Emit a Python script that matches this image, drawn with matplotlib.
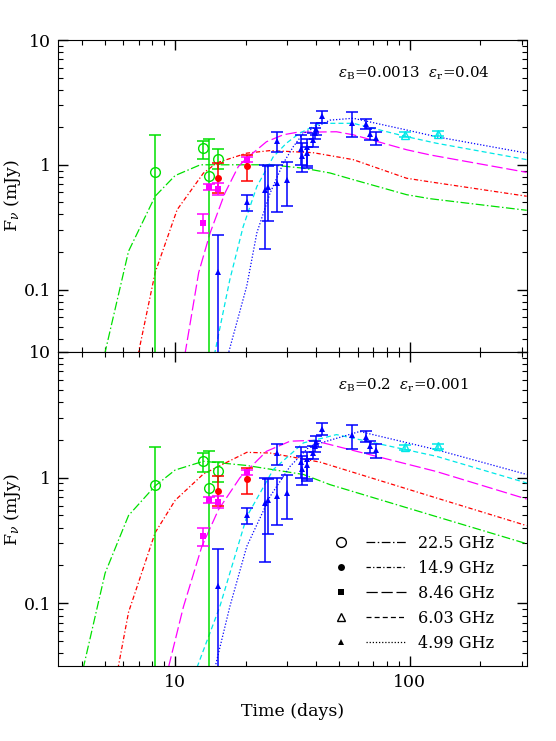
import numpy as np
import matplotlib
matplotlib.use('Agg')
import matplotlib.pyplot as plt
from matplotlib.lines import Line2D
from matplotlib.legend_handler import HandlerTuple
from matplotlib.ticker import LogLocator, NullFormatter

plt.rcParams['font.family'] = 'DejaVu Serif'
plt.rcParams['mathtext.fontset'] = 'dejavuserif'

# observed data (days, mJy, upper end, lower end of error bar; 0 = down to zero)
t_225 = [8.22, 13.2, 14.0, 15.3]
f_225 = [0.868, 1.36, 0.82, 1.12]
hi_225 = [1.74, 1.56, 1.62, 1.34]
lo_225 = [0.0, 1.11, 0.0, 0.93]

t_149 = [15.3, 20.2]
f_149 = [0.785, 0.975]
hi_149 = [1.03, 1.2]
lo_149 = [0.595, 0.735]

t_846 = [13.2, 14.0, 15.3, 20.2]
f_846 = [0.343, 0.664, 0.645, 1.10]
hi_846 = [0.40, 0.70, 0.714, 1.16]
lo_846 = [0.285, 0.63, 0.576, 1.05]

t_603 = [95.2, 132.0]
f_603 = [1.74, 1.77]
hi_603 = [1.82, 1.85]
lo_603 = [1.66, 1.69]

t_499 = [15.2, 20.2, 24.2, 24.9, 27.1, 27.1, 30.1, 34.3, 34.6, 36.3, 36.6,
         38.8, 39.4, 39.8, 42.1, 57.0, 65.0, 67.6, 72.1]
f_499 = [0.138, 0.50, 0.624, 0.664, 0.714, 1.56, 0.75, 1.33, 1.18, 1.40, 1.25,
         1.58, 1.79, 1.93, 2.46, 2.18, 2.12, 1.77, 1.65]
hi_499 = [0.273, 0.569, 0.99, 0.97, 1.0, 1.84, 1.05, 1.74, 1.49, 1.60, 1.40,
          1.79, 1.96, 2.15, 2.72, 2.63, 2.33, 1.96, 1.84]
lo_499 = [0.0, 0.424, 0.212, 0.353, 0.419, 1.26, 0.47, 1.0, 0.88, 0.97, 0.94,
          1.40, 1.60, 1.74, 2.17, 1.68, 1.93, 1.58, 1.43]

# model curves, top panel (eps_B=0.0013, eps_r=0.04)
top_t_225 = [5.0, 6.33, 8.22, 10.0, 12.8, 25.4, 35.2, 45.7, 57.4, 97, 122, 315]
top_f_225 = [0.03, 0.203, 0.56, 0.82, 1.0, 1.0, 0.94, 0.86, 0.76, 0.576, 0.535, 0.432]
top_t_149 = [6.95, 8.22, 10.2, 13.2, 15.1, 20.2, 25.4, 38.8, 57.4, 97, 122, 315]
top_f_149 = [0.03, 0.137, 0.437, 0.858, 1.04, 1.24, 1.30, 1.25, 1.1, 0.78, 0.73, 0.56]
top_t_846 = [11.0, 12.6, 14.1, 16.3, 18.6, 20.2, 24.5, 28.9, 33.0, 48.7, 57.4, 97, 122, 315]
top_f_846 = [0.03, 0.137, 0.285, 0.594, 0.97, 1.13, 1.53, 1.74, 1.82, 1.84, 1.74, 1.32, 1.2, 0.87]
top_t_603 = [14.7, 17.1, 19.5, 22.3, 26.2, 29.8, 33.9, 41.4, 57.4, 97, 129.6, 315]
top_f_603 = [0.03, 0.12, 0.32, 0.67, 1.16, 1.49, 1.79, 2.15, 2.15, 1.68, 1.49, 1.1]
top_t_499 = [16.8, 20.2, 22.3, 25.4, 28.9, 31.9, 35.2, 45.7, 57.4, 97, 129.6, 315]
top_f_499 = [0.03, 0.107, 0.285, 0.594, 1.03, 1.4, 1.79, 2.28, 2.36, 1.9, 1.68, 1.24]

# model curves, bottom panel (eps_B=0.2, eps_r=0.001)
bot_t_225 = [4.05, 5.03, 6.33, 8.22, 10.0, 13.2, 20.2, 35.2, 45.7, 129.6, 315]
bot_f_225 = [0.03, 0.174, 0.50, 0.86, 1.15, 1.35, 1.25, 1.06, 0.88, 0.49, 0.298]
bot_t_149 = [5.7, 6.33, 8.22, 10.0, 13.2, 20.2, 25.4, 41.4, 129.6, 315]
bot_f_149 = [0.03, 0.085, 0.365, 0.66, 1.07, 1.59, 1.57, 1.33, 0.69, 0.415]
bot_t_846 = [9.37, 10.85, 13.0, 15.3, 18.9, 24.5, 30.9, 38.8, 129.6, 315]
bot_f_846 = [0.031, 0.094, 0.284, 0.556, 1.0, 1.62, 1.95, 1.98, 1.12, 0.676]
bot_t_603 = [12.4, 15.5, 20.2, 26.2, 35.2, 48.7, 129.6, 315]
bot_f_603 = [0.031, 0.094, 0.49, 1.16, 1.89, 2.2, 1.48, 0.907]
bot_t_499 = [14.8, 17.1, 20.2, 25.4, 30.9, 37.5, 61.2, 129.6, 315]
bot_f_499 = [0.031, 0.094, 0.284, 0.71, 1.23, 1.78, 2.33, 1.67, 1.06]

labels = ['22.5 GHz', '14.9 GHz', '8.46 GHz', '6.03 GHz', '4.99 GHz']
colors = ['#00e000', '#ff0000', '#ff00ff', '#00e8e8', '#0000ff']
styles = [(0, (7, 2, 1.2, 2)), (0, (3.5, 1.8, 1, 1.8)), (0, (9, 3)),
          (0, (4, 2.5)), (0, (1, 1.5))]
markers = [dict(marker='o', ms=7, mfc='none', mew=1.0),
           dict(marker='o', ms=5, mew=0),
           dict(marker='s', ms=4, mew=0),
           dict(marker='^', ms=6, mfc='none', mew=1.0),
           dict(marker='^', ms=4.5, mew=0)]

obs = [(t_225, f_225, hi_225, lo_225), (t_149, f_149, hi_149, lo_149),
       (t_846, f_846, hi_846, lo_846), (t_603, f_603, hi_603, lo_603),
       (t_499, f_499, hi_499, lo_499)]
top_models = [(top_t_225, top_f_225), (top_t_149, top_f_149), (top_t_846, top_f_846),
              (top_t_603, top_f_603), (top_t_499, top_f_499)]
bot_models = [(bot_t_225, bot_f_225), (bot_t_149, bot_f_149), (bot_t_846, bot_f_846),
              (bot_t_603, bot_f_603), (bot_t_499, bot_f_499)]

fig = plt.figure(figsize=(5.56, 7.41), dpi=100)
ax1 = fig.add_axes([0.104, 0.525, 0.844, 0.421])
ax2 = fig.add_axes([0.104, 0.101, 0.844, 0.424], sharex=ax1)


def draw_panel(ax, models, text):
    for (t, f), c, ls in zip(models, colors, styles):
        ax.plot(t, f, color=c, ls=ls, lw=0.9)
    for (t, f, hi, lo), c, mk in zip(obs, colors, markers):
        f = np.array(f)
        hi = np.array(hi)
        lo = np.array(lo)
        lo = np.where(lo <= 0, 1e-4, lo)
        ax.errorbar(t, f, yerr=[f - lo, hi - f], fmt='none', ecolor=c,
                    elinewidth=1.1, capsize=4, capthick=1.1)
        ax.plot(t, f, ls='none', color=c, mec=c, **mk)
    ax.set_xscale('log')
    ax.set_yscale('log')
    ax.set_xlim(10 ** 0.5, 10 ** 2.5)
    ax.set_ylim(10 ** -1.5, 10)
    ax.set_yticks([0.1, 1, 10])
    ax.set_yticklabels(['0.1', '1', '10'])
    ax.yaxis.set_minor_locator(LogLocator(base=10, subs=np.arange(2, 10)))
    ax.yaxis.set_minor_formatter(NullFormatter())
    ax.xaxis.set_minor_locator(LogLocator(base=10, subs=np.arange(2, 10)))
    ax.xaxis.set_minor_formatter(NullFormatter())
    ax.tick_params(which='both', direction='in', top=True, right=True, labelsize=12.5)
    ax.tick_params(which='major', length=7, width=1)
    ax.tick_params(which='minor', length=3.5, width=0.8)
    ax.tick_params(axis='x', pad=6)
    ax.tick_params(axis='y', pad=5)
    ax.set_ylabel(r'F$_\nu$ (mJy)', fontsize=12.5)
    ax.yaxis.set_label_coords(-0.074, 0.5)
    ax.text(0.597, 0.893, text, transform=ax.transAxes, fontsize=10.8,
            ha='left', va='center')


draw_panel(ax1, top_models, r'$\epsilon_{\rm B}$=0.0013  $\epsilon_{\rm r}$=0.04')
draw_panel(ax2, bot_models, r'$\epsilon_{\rm B}$=0.2  $\epsilon_{\rm r}$=0.001')

ax1.set_xticks([10, 100])
ax1.set_xticklabels(['10', '100'])
ax1.tick_params(labelbottom=False)
ax2.set_xlabel('Time (days)', fontsize=12.5, labelpad=8)

handles = []
for mk, ls in zip(markers, styles):
    m = Line2D([], [], ls='none', color='k', mec='k', **mk)
    ln = Line2D([], [], color='k', ls=ls, lw=0.9)
    handles.append((m, ln))
ax2.legend(handles, labels, handler_map={tuple: HandlerTuple(ndivide=2, pad=0.3)},
           loc='lower left', bbox_to_anchor=(0.53, 0.0), frameon=False,
           handlelength=5.3, handletextpad=0.75, labelspacing=0.5, fontsize=11.5,
           numpoints=1)

fig.savefig('out.png', dpi=100)
